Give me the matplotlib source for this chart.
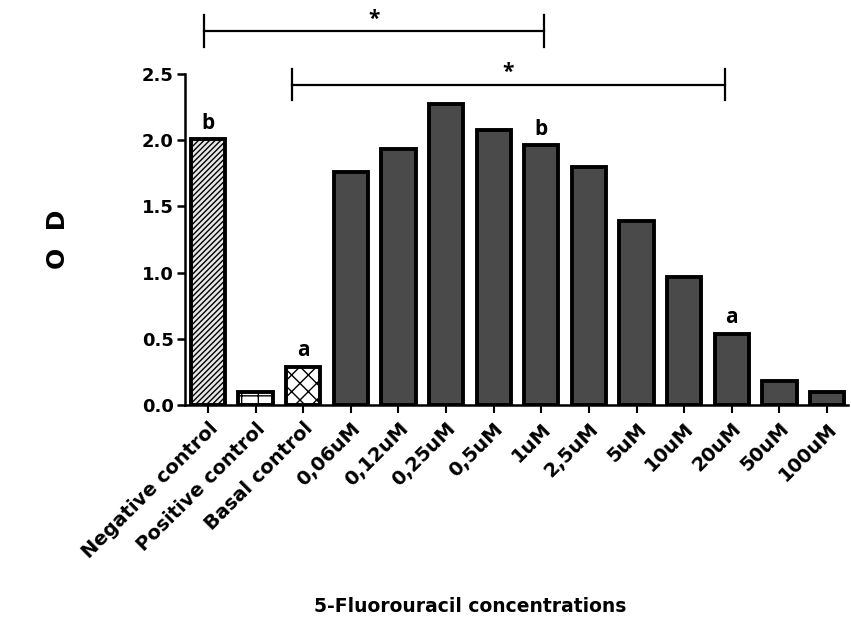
import numpy as np
import matplotlib.pyplot as plt

# data
groups = ["Negative control", "Positive control", "Basal control",
          "0,06uM", "0,12uM", "0,25uM", "0,5uM", "1uM", "2,5uM",
          "5uM", "10uM", "20uM", "50uM", "100uM"]
od = [2.01, 0.10, 0.29, 1.76, 1.93, 2.27, 2.08, 1.96, 1.80,
      1.39, 0.97, 0.54, 0.18, 0.10]
letters = {0: "b", 2: "a", 7: "b", 11: "a"}
# (from bar, to bar, height in OD)
brackets = [(0, 7, 2.825), (2, 11, 2.42)]
bracket_shift = [(-0.08, 0.06), (-0.23, -0.15)]

plt.rcParams['font.family'] = ['DejaVu Sans']

fig = plt.figure(figsize=(8.51, 6.43), dpi=100)
ax = fig.add_axes([0.217, 0.37, 0.78, 0.515])

x = np.arange(len(groups))
dark = "#4a4a4a"
plt.rcParams['hatch.linewidth'] = 1.0

bars = ax.bar(x, od, width=0.72, color=dark, edgecolor="black", linewidth=2.8)
bars[0].set_facecolor("#e8e8e8")
bars[0].set_hatch("//////")
bars[1].set_facecolor("white")
bars[1].set_hatch("-+")
bars[2].set_facecolor("white")
bars[2].set_hatch("xx")

# significance letters
for i, t in letters.items():
    ax.text(x[i], od[i] + 0.04, t, ha="center", va="bottom",
            fontsize=15, fontweight="bold", family=["Open Sans", "DejaVu Sans"])

# significance brackets
for (a, b, h), (da, db) in zip(brackets, bracket_shift):
    x0, x1 = x[a] + da, x[b] + db
    ax.plot([x0, x1], [h, h], color="black", lw=1.6, clip_on=False)
    ax.plot([x0, x0], [h - 0.12, h + 0.12], color="black", lw=1.6, clip_on=False)
    ax.plot([x1, x1], [h - 0.12, h + 0.12], color="black", lw=1.6, clip_on=False)
    ax.text((x0 + x1) / 2, h + 0.01, "*", ha="center", va="bottom",
            fontsize=15, fontweight="bold", family=["Open Sans", "DejaVu Sans"])

ax.set_xlim(-0.49, 13.45)
ax.set_ylim(0, 2.5)
ax.set_yticks([0.0, 0.5, 1.0, 1.5, 2.0, 2.5])
ax.set_yticklabels(["0.0", "0.5", "1.0", "1.5", "2.0", "2.5"],
                   fontsize=13, fontweight="bold")
ax.set_xticks(x)
ax.set_xticklabels(groups, rotation=45, ha="right", rotation_mode="anchor",
                   fontsize=14, fontweight="bold")

for s in ["top", "right"]:
    ax.spines[s].set_visible(False)
ax.spines["left"].set_linewidth(1.8)
ax.spines["bottom"].set_linewidth(1.8)
ax.tick_params(axis="y", direction="out", length=6, width=1.8, pad=2)
ax.tick_params(axis="x", direction="out", length=6, width=1.5, pad=4)

fig.text(0.068, 0.628, "O  D", rotation=90, ha="center", va="center",
         fontsize=18, fontweight="bold")
fig.text(0.552, 0.048, "5-Fluorouracil concentrations", ha="center",
         fontsize=13.5, fontweight="bold")

fig.savefig("out.png", dpi=100)
